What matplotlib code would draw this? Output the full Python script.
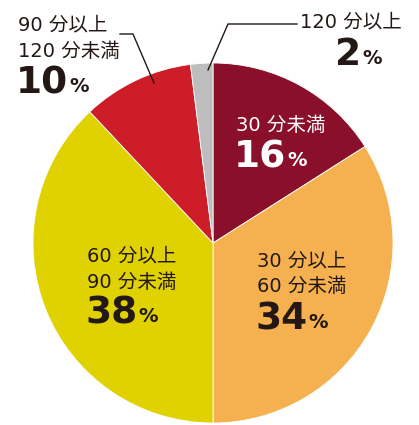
import matplotlib.pyplot as plt

plt.rcParams['font.family'] = ['DejaVu Sans', 'Noto Sans CJK JP']

labels = ["30 分未満", "30 分以上\n60 分未満", "60 分以上\n90 分未満", "90 分以上\n120 分未満", "120 分以上"]
shares = [16, 34, 38, 10, 2]
colors = ["#8A0F2B", "#F5B14F", "#E0D200", "#CC1D28", "#BDBDBD"]

fig = plt.figure(figsize=(4.19, 4.25), dpi=100)
ax = fig.add_axes([0, 0, 1, 1])
H = 425

ax.pie(shares, colors=colors, startangle=90, counterclock=False,
       center=(213, H - 243), radius=180,
       wedgeprops=dict(edgecolor="white", linewidth=0.6))
ax.set_xlim(0, 419)
ax.set_ylim(0, H)
ax.set_aspect("equal")
ax.axis("off")

dark = "#231815"

def label(x, y, text, pct, color, big=27, small=14):
    lines = text.split("\n")
    for i, ln in enumerate(lines):
        ax.text(x, H - (y + i * 26), ln, fontsize=small, color=color,
                ha="left", va="center")
    py = y + len(lines) * 26 + 6
    t = ax.text(x - 2, H - py, str(pct), fontsize=big, fontweight="bold",
                color=color, ha="left", va="center")
    fig.canvas.draw()
    bb = t.get_window_extent()
    ax.text(bb.x1 + 1, H - py - 3, "%", fontsize=small, fontweight="bold",
            color=color, ha="left", va="center")

label(236, 125, labels[0], shares[0], "white")
label(257, 261, labels[1], shares[1], dark)
label(87, 256, labels[2], shares[2], dark)
label(18, 25, labels[3], shares[3], dark)

# 120分以上: centered block
ax.text(351, H - 22, labels[4], fontsize=14, color=dark, ha="center", va="center")
ax.text(361, H - 55, str(shares[4]), fontsize=27, fontweight="bold",
        color=dark, ha="right", va="center")
ax.text(362, H - 58, "%", fontsize=14, fontweight="bold", color=dark,
        ha="left", va="center")

# leader lines
ax.plot([120, 133, 154], [H - 34, H - 34, H - 83], color=dark, lw=1)
ax.plot([297, 228, 208], [H - 24, H - 24, H - 70], color=dark, lw=1)

fig.savefig("out.png", dpi=100)
